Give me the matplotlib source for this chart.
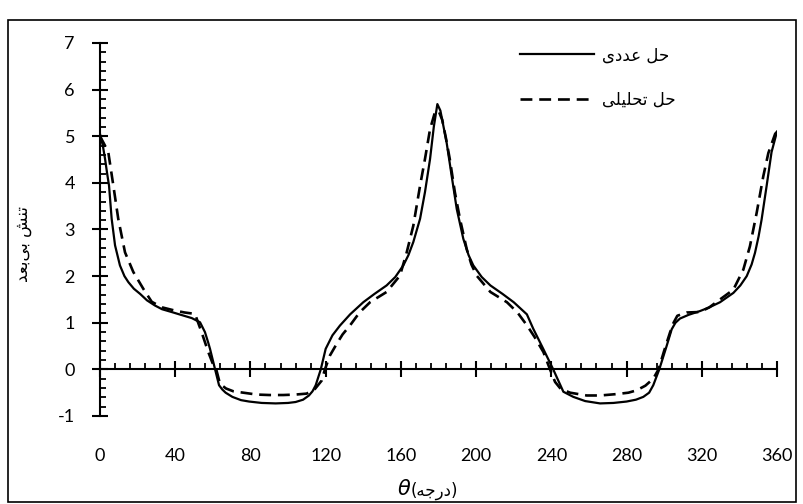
import matplotlib
matplotlib.use("Agg")
import matplotlib.pyplot as plt
from matplotlib.ticker import MultipleLocator

plt.rcParams["font.family"] = ["Lato", "DejaVu Sans"]
plt.rcParams["axes.unicode_minus"] = False

# numerical solution (solid)
theta_num = [0, 1.5, 2.7, 3.8, 4.8, 6.2, 8.0, 10.6, 13, 15.1, 18, 21.3, 25, 29.2, 33,
             38.1, 43, 48.8, 53.2, 55.8, 57.5, 58.5, 61.2, 63.3, 65, 66.8, 70.4, 75,
             79.3, 86, 93.4, 100, 104, 108, 111.1, 113, 114.7, 117.4, 120.0, 123.6,
             127.6, 133, 140, 146, 152.4, 157, 161.3, 164, 166.6, 170.2, 172.8, 175.5,
             177.5, 179.4, 181, 184.3, 187, 189.7, 193.2, 196, 198.5, 203, 207.6, 214,
             220, 227, 230.4, 235.7, 241, 246.4, 251.7, 258, 265.9, 273, 280, 285,
             288.9, 292, 294.2, 297.4, 301.3, 304, 306, 308.4, 313, 319, 324, 329.7,
             336.8, 340.5, 343.9, 346.5, 348.3, 350.2, 351.8, 354.5, 357.1, 360]
stress_num = [5.05, 4.8, 4.51, 4.2, 3.94, 3.23, 2.66, 2.23, 2.0, 1.87, 1.73, 1.62, 1.48,
              1.37, 1.29, 1.23, 1.17, 1.10, 1.01, 0.8, 0.58, 0.44, 0.0, -0.34, -0.43,
              -0.50, -0.59, -0.66, -0.69, -0.72, -0.73, -0.72, -0.70, -0.65, -0.56,
              -0.47, -0.34, 0.0, 0.44, 0.73, 0.94, 1.18, 1.44, 1.62, 1.80, 1.98, 2.23,
              2.45, 2.73, 3.23, 3.80, 4.51, 5.2, 5.69, 5.55, 4.87, 4.15, 3.44, 2.80,
              2.45, 2.23, 1.98, 1.80, 1.62, 1.44, 1.18, 0.87, 0.44, 0.0, -0.48, -0.59,
              -0.68, -0.73, -0.72, -0.69, -0.65, -0.59, -0.50, -0.34, 0.0, 0.5, 0.86,
              1.0, 1.09, 1.17, 1.25, 1.33, 1.44, 1.64, 1.8, 2.0, 2.25, 2.5, 2.85, 3.21,
              3.94, 4.66, 5.1]

# analytical solution (dashed)
theta_ana = [0, 2, 4.4, 7.1, 9.7, 13.3, 17.7, 23, 27.5, 33, 39.9, 45, 50.5, 54, 57.6,
             60, 61.8, 63.8, 67, 70.9, 78, 83.3, 90, 97.5, 104, 109.9, 114.3, 117.9,
             119.6, 122.3, 125.9, 129, 132.9, 138, 143.6, 152.4, 159.5, 163.1, 166.6,
             170.2, 172.8, 175.5, 178, 180, 182, 184, 186, 188.7, 191.4, 195, 197.5,
             200.3, 207.6, 216.4, 222, 227.1, 231, 235.8, 239.3, 242, 245, 250, 258.8,
             266, 274.7, 281, 285.3, 290, 294.2, 297, 300, 303.1, 305, 307, 312, 319,
             324, 329.7, 336.8, 342.1, 345.6, 349.2, 352.7, 355.4, 359, 360]
stress_ana = [5.0, 4.85, 4.66, 3.94, 3.23, 2.51, 2.09, 1.73, 1.45, 1.33, 1.26, 1.22,
              1.19, 0.8, 0.37, 0.12, 0.0, -0.31, -0.41, -0.47, -0.51, -0.54, -0.55,
              -0.55, -0.54, -0.52, -0.42, -0.24, 0.0, 0.30, 0.55, 0.75, 0.94, 1.22,
              1.44, 1.66, 2.01, 2.51, 3.08, 3.94, 4.51, 5.15, 5.5, 5.55, 5.35, 4.95,
              4.51, 3.80, 3.23, 2.58, 2.25, 2.01, 1.66, 1.44, 1.22, 0.94, 0.70, 0.37,
              0.0, -0.27, -0.42, -0.50, -0.56, -0.56, -0.53, -0.50, -0.45, -0.35, -0.2,
              0.0, 0.4, 0.79, 1.0, 1.15, 1.22, 1.23, 1.33, 1.5, 1.71, 2.14, 2.64, 3.36,
              4.14, 4.64, 5.05, 5.1]

x_ticks = list(range(0, 361, 40))
y_ticks = list(range(-1, 8))

# Persian labels written in shaped (presentation) forms, visual order
label_num = "\ufeef\ufea9\ufeaa\ufecb \ufede\ufea3"            # حل عددی
label_ana = "\ufef0\ufee0\ufef4\ufee0\ufea4\ufe97 \ufede\ufea3"  # حل تحلیلی
ylabel = "\ufeaa\ufecc\ufe91\ufef0\ufe91 \ufeb6\ufee8\ufe97"     # تنش بی‌بعد
xlabel_unit = "(\ufeea\ufe9f\ufead\ufea9)"                       # (درجه)

fig = plt.figure(figsize=(8.04, 5.04), dpi=100)
ax = fig.add_axes([100 / 804, 88 / 504, 677 / 804, 373 / 504])

ax.plot(theta_num, stress_num, color="black", lw=1.6, label=label_num)
ax.plot(theta_ana, stress_ana, color="black", lw=1.9, linestyle=(0, (4.5, 2.6)),
        label=label_ana)

ax.set_xlim(0, 360)
ax.set_ylim(-1, 7)

for s in ["top", "right"]:
    ax.spines[s].set_visible(False)
ax.spines["bottom"].set_position(("data", 0))
ax.spines["bottom"].set_linewidth(1.5)
ax.spines["left"].set_linewidth(1.5)

ax.set_xticks(x_ticks)
ax.xaxis.set_minor_locator(MultipleLocator(8))
ax.set_yticks(y_ticks)
ax.yaxis.set_minor_locator(MultipleLocator(0.2))
ax.tick_params(axis="x", which="major", direction="inout", length=12, width=1.5,
               labelbottom=False)
ax.tick_params(axis="x", which="minor", direction="in", length=4.5, width=1.3)
ax.tick_params(axis="y", which="major", direction="inout", length=12, width=1.5,
               labelsize=13, pad=12)
ax.tick_params(axis="y", which="minor", direction="in", length=4, width=1.3)

# tick labels for theta sit below the plot, not on the zero line
sec = ax.secondary_xaxis("bottom")
sec.set_xticks(x_ticks)
sec.spines["bottom"].set_visible(False)
sec.tick_params(length=0, pad=23, labelsize=13)

ax.set_ylabel(ylabel, fontsize=12, family=["DejaVu Sans"])
ax.yaxis.set_label_coords(-0.1, 0.46)

# x label: italic theta followed by the unit in Persian
fig.text(410 / 804, 1 - 489 / 504, "\u03b8", fontsize=15, style="italic",
         family=["DejaVu Sans"], ha="right", va="center")
fig.text(411 / 804, 1 - 491 / 504, xlabel_unit, fontsize=12,
         family=["DejaVu Sans"], ha="left", va="center")

ax.legend(loc="upper left", bbox_to_anchor=(512 / 804, 1 - 38 / 504),
          bbox_transform=fig.transFigure, frameon=False,
          handlelength=4.4, handletextpad=0.5, labelspacing=1.6, borderpad=0,
          prop={"family": ["DejaVu Sans"], "size": 12})

fig.add_artist(plt.Rectangle((8 / 804, 2 / 504), 788 / 804, 482 / 504,
                             transform=fig.transFigure, fill=False, lw=1.2,
                             ec="black"))

fig.savefig("out.png", dpi=100)
